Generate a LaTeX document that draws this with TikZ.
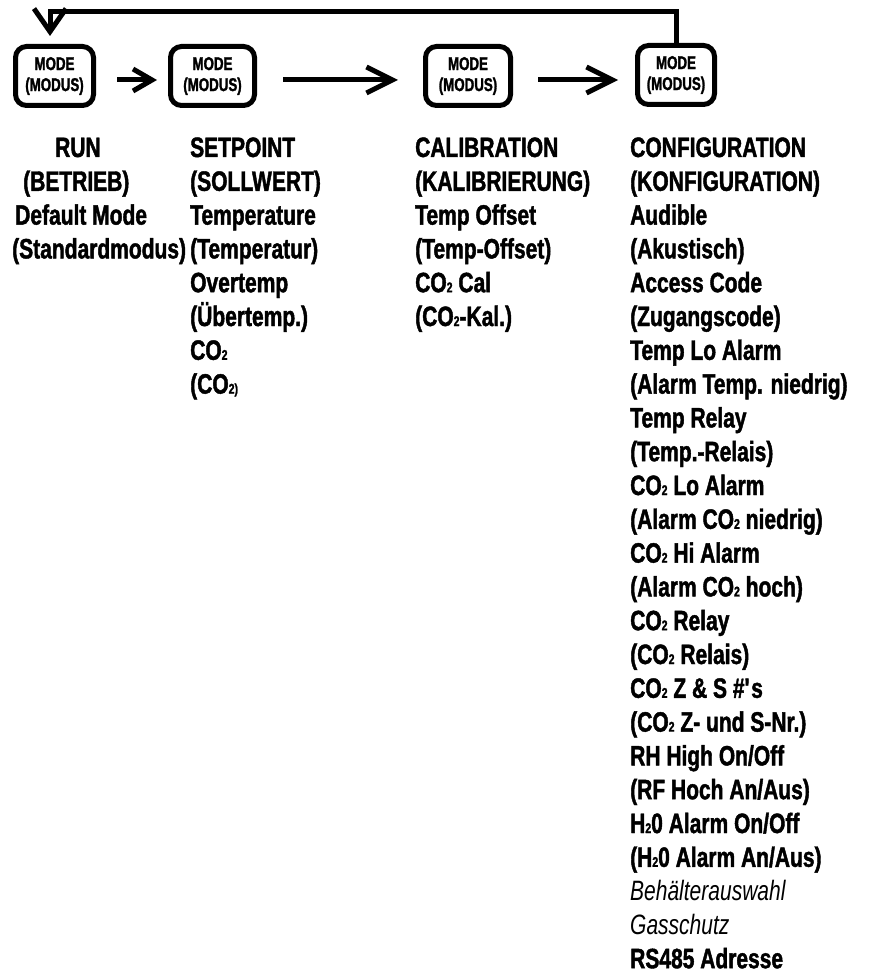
\documentclass[tikz,border=0pt]{standalone}
\usepackage{fontspec}
\setmainfont{Liberation Sans}[FakeStretch=0.75, BoldFeatures={FakeBold=1.5}]
\newfontfamily\boxfont{Liberation Sans}[FakeStretch=0.72, BoldFeatures={FakeBold=1.5}]
\usetikzlibrary{arrows.meta}
\newcommand\smallsub[1]{{\fontsize{14}{14}\selectfont #1}}
\newcommand\ry[1]{157+33.8*#1}
\tikzset{
  modebox/.style={draw, line width=5pt, rounded corners=11pt, outer sep=0pt,
    minimum height=59pt, inner sep=0pt, align=center,
    font=\boxfont\bfseries\fontsize{18.5}{21}\selectfont},
  txt/.style={anchor=base west, inner sep=0pt, font=\bfseries\fontsize{28}{28}\selectfont},
  itxt/.style={anchor=base west, inner sep=0pt, font=\mdseries\itshape\fontsize{28}{28}\selectfont},
  arrA/.style={line width=5pt, -{Straight Barb[length=19pt,width=22pt]}},
  arrB/.style={line width=5pt, -{Straight Barb[length=26pt,width=26pt]}},
  arrFB/.style={line width=5pt, line join=miter, -{Straight Barb[length=23pt,width=32pt]}}
}
\begin{document}
\begin{tikzpicture}[x=1pt,y=-1pt]
\useasboundingbox (0,0) rectangle (870,973);
% mode boxes
\node[modebox, minimum width=78pt] (b1) at (54.5,76) {MODE\\(MODUS)};
\node[modebox, minimum width=84pt] (b2) at (212.5,76) {MODE\\(MODUS)};
\node[modebox, minimum width=85pt] (b3) at (468,76) {MODE\\(MODUS)};
\node[modebox, minimum width=77pt] (b4) at (676,75) {MODE\\(MODUS)};
% arrows
\draw[arrA] ([xshift=23.5pt,yshift=-4pt]b1.east) -- ([xshift=-13.5pt,yshift=-4pt]b2.west);
\draw[arrB] ([xshift=28.5pt,yshift=-4pt]b2.east) -- ([xshift=-27.5pt,yshift=-4pt]b3.west);
\draw[arrB] ([xshift=27.5pt,yshift=-4pt]b3.east) -- ([xshift=-19.5pt,yshift=-5pt]b4.west);
% feedback
\coordinate (fbcorner) at (50,12);
\coordinate (fbtip) at (50,36);
\draw[arrFB] (b4.north) |- (fbcorner) -- (fbtip);
% column 1
\node[txt] (r0) at (55,{\ry{0}}) {RUN};
\node[txt] (r1) at (23,{\ry{1}}) {(BETRIEB)};
\node[txt] (r2) at (15,{\ry{2}}) {Default Mode};
\node[txt] (r3) at (12,{\ry{3}}) {(Standardmodus)};
% column 2
\node[txt] (s0) at (190,{\ry{0}}) {SETPOINT};
\node[txt] (s1) at (190,{\ry{1}}) {(SOLLWERT)};
\node[txt] (s2) at (190,{\ry{2}}) {Temperature};
\node[txt] (s3) at (190,{\ry{3}}) {(Temperatur)};
\node[txt] (s4) at (190,{\ry{4}}) {Overtemp};
\node[txt] (s5) at (190,{\ry{5}}) {(Übertemp.)};
\node[txt] (s6) at (190,{\ry{6}}) {CO\smallsub{2}};
\node[txt] (s7) at (190,{\ry{7}}) {(CO\smallsub{2)}};
% column 3
\node[txt] (k0) at (415,{\ry{0}}) {CALIBRATION};
\node[txt] (k1) at (415,{\ry{1}}) {(KALIBRIERUNG)};
\node[txt] (k2) at (415,{\ry{2}}) {Temp Offset};
\node[txt] (k3) at (415,{\ry{3}}) {(Temp-Offset)};
\node[txt] (k4) at (415,{\ry{4}}) {CO\smallsub{2} Cal};
\node[txt] (k5) at (415,{\ry{5}}) {(CO\smallsub{2}-Kal.)};
% column 4
\node[txt] (c0) at (630,{\ry{0}}) {CONFIGURATION};
\node[txt] (c1) at (630,{\ry{1}}) {(KONFIGURATION)};
\node[txt] (c2) at (630,{\ry{2}}) {Audible};
\node[txt] (c3) at (630,{\ry{3}}) {(Akustisch)};
\node[txt] (c4) at (630,{\ry{4}}) {Access Code};
\node[txt] (c5) at (630,{\ry{5}}) {(Zugangscode)};
\node[txt] (c6) at (630,{\ry{6}}) {Temp Lo Alarm};
\node[txt] (c7) at (630,{\ry{7}}) {(Alarm Temp. niedrig)};
\node[txt] (c8) at (630,{\ry{8}}) {Temp Relay};
\node[txt] (c9) at (630,{\ry{9}}) {(Temp.-Relais)};
\node[txt] (c10) at (630,{\ry{10}}) {CO\smallsub{2} Lo Alarm};
\node[txt] (c11) at (630,{\ry{11}}) {(Alarm CO\smallsub{2} niedrig)};
\node[txt] (c12) at (630,{\ry{12}}) {CO\smallsub{2} Hi Alarm};
\node[txt] (c13) at (630,{\ry{13}}) {(Alarm CO\smallsub{2} hoch)};
\node[txt] (c14) at (630,{\ry{14}}) {CO\smallsub{2} Relay};
\node[txt] (c15) at (630,{\ry{15}}) {(CO\smallsub{2} Relais)};
\node[txt] (c16) at (630,{\ry{16}}) {CO\smallsub{2} Z \& S \#\textquotesingle s};
\node[txt] (c17) at (630,{\ry{17}}) {(CO\smallsub{2} Z- und S-Nr.)};
\node[txt] (c18) at (630,{\ry{18}}) {RH High On/Off};
\node[txt] (c19) at (630,{\ry{19}}) {(RF Hoch An/Aus)};
\node[txt] (c20) at (630,{\ry{20}}) {H\smallsub{2}0 Alarm On/Off};
\node[txt] (c21) at (630,{\ry{21}}) {(H\smallsub{2}0 Alarm An/Aus)};
\node[itxt] (c22) at (630,{\ry{22}}) {Behälterauswahl};
\node[itxt] (c23) at (630,{\ry{23}}) {Gasschutz};
\node[txt] (c24) at (630,{\ry{24}}) {RS485 Adresse};
\end{tikzpicture}
\end{document}
